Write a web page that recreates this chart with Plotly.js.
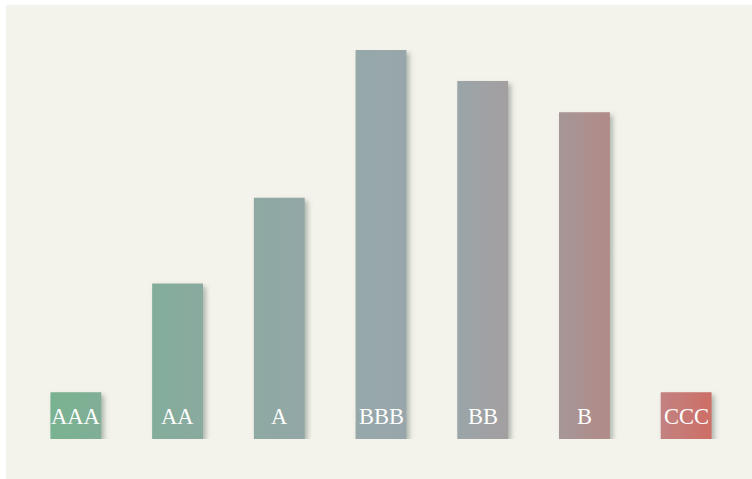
<!DOCTYPE html>
<html>
<head>
<meta charset="utf-8">
<script src="https://cdn.plot.ly/plotly-3.0.1.min.js"></script>
<style>
  html, body { margin: 0; padding: 0; background: #ffffff; }
  #chart { position: absolute; left: 6px; top: 5px; width: 746px; height: 474px; }
</style>
</head>
<body>
<div id="chart"></div>
<script>
// Data
var categories = ["AAA", "AA", "A", "BBB", "BB", "B", "CCC"];
var values = [3, 10, 15.5, 25, 23, 21, 3];
var labels = ["AAA", "AA", "A", "BBB", "BB", "B", "CCC"];

// Styles (per-bar gradient left -> right)
var leftColors  = ["#79b391", "#83ad9b", "#8ea9a2", "#96a8aa", "#9aa5a8", "#a69797", "#c28280"];
var rightColors = ["#80ae96", "#8aaa9f", "#93a7a7", "#98a6ab", "#a49fa1", "#b18a88", "#cd6e66"];

var trace = {
  type: "bar",
  x: categories,
  y: values,
  marker: { color: leftColors, line: { width: 0 } },
  hoverinfo: "x+y"
};

var annotations = categories.map(function (c, i) {
  return {
    x: c, y: 0, xref: "x", yref: "y",
    yanchor: "bottom", xanchor: "center",
    text: labels[i], showarrow: false,
    yshift: 8,
    font: { family: "Liberation Serif, Times New Roman, serif", size: 22.5, color: "#ffffff" }
  };
});

var layout = {
  width: 746, height: 474,
  margin: { l: 19, r: 15, t: 45, b: 40, pad: 0 },
  paper_bgcolor: "#f4f3eb",
  plot_bgcolor: "#f4f3eb",
  bargap: 0.5,
  showlegend: false,
  xaxis: { showgrid: false, zeroline: false, showticklabels: false, showline: false, ticks: "" },
  yaxis: { range: [0, 25], showgrid: false, zeroline: false, showticklabels: false, showline: false, ticks: "" },
  annotations: annotations
};

Plotly.newPlot("chart", [trace], layout, { displayModeBar: false, staticPlot: true }).then(function (gd) {
  var svg = gd.querySelector("svg.main-svg");
  var ns = "http://www.w3.org/2000/svg";
  var defs = svg.querySelector("defs") || svg.insertBefore(document.createElementNS(ns, "defs"), svg.firstChild);
  var filt = document.createElementNS(ns, "filter");
  filt.setAttribute("id", "barShadow");
  filt.setAttribute("x", "-20%"); filt.setAttribute("y", "-20%");
  filt.setAttribute("width", "150%"); filt.setAttribute("height", "150%");
  var ds = document.createElementNS(ns, "feDropShadow");
  ds.setAttribute("dx", "3"); ds.setAttribute("dy", "3");
  ds.setAttribute("stdDeviation", "2.8");
  ds.setAttribute("flood-color", "#66796d");
  ds.setAttribute("flood-opacity", "0.5");
  filt.appendChild(ds);
  defs.appendChild(filt);
  leftColors.forEach(function (lc, i) {
    var g = document.createElementNS(ns, "linearGradient");
    g.setAttribute("id", "barGrad" + i);
    g.setAttribute("x1", "0"); g.setAttribute("y1", "0");
    g.setAttribute("x2", "1"); g.setAttribute("y2", "0");
    var s1 = document.createElementNS(ns, "stop");
    s1.setAttribute("offset", "0"); s1.setAttribute("stop-color", lc);
    var s2 = document.createElementNS(ns, "stop");
    s2.setAttribute("offset", "1"); s2.setAttribute("stop-color", rightColors[i]);
    g.appendChild(s1); g.appendChild(s2);
    defs.appendChild(g);
  });
  var paths = gd.querySelectorAll(".barlayer .point path");
  paths.forEach(function (p, i) {
    p.style.fill = "url(#barGrad" + i + ")";
    p.setAttribute("filter", "url(#barShadow)");
  });
});
</script>
</body>
</html>
